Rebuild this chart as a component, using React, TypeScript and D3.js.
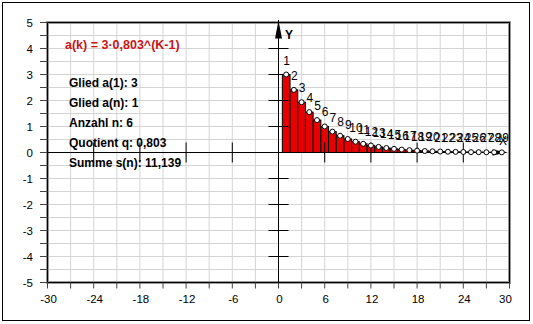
import React from "react";
import * as d3 from "d3";

const termIndex = [1,2,3,4,5,6,7,8,9,10,11,12,13,14,15,16,17,18,19,20,21,22,23,24,25,26,27,28,29];
const termValues = [3, 2.409, 1.934, 1.553, 1.247, 1.002, 0.804, 0.646, 0.519, 0.416, 0.334, 0.269, 0.216, 0.173, 0.139, 0.112, 0.090, 0.072, 0.058, 0.046, 0.037, 0.030, 0.024, 0.019, 0.015, 0.012, 0.010, 0.008, 0.006];
const xTickLabels = [-30, -24, -18, -12, -6, 0, 6, 12, 18, 24, 30];
const yTickLabels = [5, 4, 3, 2, 1, 0, -1, -2, -3, -4, -5];
const titleText = "a(k) = 3·0,803^(K-1)";
const infoLines = ["Glied a(1): 3", "Glied a(n): 1", "Anzahl n: 6", "Quotient q: 0,803", "Summe s(n): 11,139"];

export default function App() {
  const W = 533, H = 324;
  const x = d3.scaleLinear().domain([-30, 30]).range([47.5, 509.5]);
  const y = d3.scaleLinear().domain([-5, 5]).range([282.5, 22.5]);
  const font = "'Liberation Sans', Arial, sans-serif";
  const vGrid = d3.range(-30, 30.01, 3);
  const hGrid = d3.range(-5, 5.01, 0.5);
  const axisTicksX = [-24, -18, -12, -6, 6, 12, 18, 24];
  const axisTicksY = [-4, -3, -2, -1, 1, 2, 3, 4];
  const x0 = x(0), y0 = y(0);
  return (
    <div style={{ position: "fixed", left: 0, top: 0 }}>
      <svg width={W} height={H} style={{ display: "block", background: "#fff" }}>
        <rect x={2.5} y={2.5} width={527} height={318} fill="#fff" stroke="#000" strokeWidth={1} />
        {/* grid */}
        {vGrid.map((v) => (
          <line key={"vg" + v} x1={x(v)} x2={x(v)} y1={y(-5)} y2={y(5)} stroke="#d4d4d4" strokeWidth={1} />
        ))}
        {hGrid.map((v) => (
          <line key={"hg" + v} x1={x(-30)} x2={x(30)} y1={y(v)} y2={y(v)} stroke="#d4d4d4" strokeWidth={1} />
        ))}
        {/* plot frame */}
        <rect x={x(-30)} y={y(5)} width={x(30) - x(-30)} height={y(-5) - y(5)} fill="none" stroke="#9a9a9a" strokeWidth={3} />
        <rect x={x(-30)} y={y(5)} width={x(30) - x(-30)} height={y(-5) - y(5)} fill="none" stroke="#000" strokeWidth={1} />
        {/* outer ticks left */}
        {hGrid.map((v) => (
          <line key={"lt" + v} x1={40} x2={x(-30)} y1={y(v)} y2={y(v)} stroke="#444" strokeWidth={1} />
        ))}
        {yTickLabels.map((v) => (
          <text key={"yl" + v} x={33} y={y(v) + 4} textAnchor="end" fontFamily={font} fontSize={11.5} fill="#000">{v}</text>
        ))}
        {/* outer ticks bottom */}
        {vGrid.map((v) => (
          <line key={"bt" + v} x1={x(v)} x2={x(v)} y1={y(-5)} y2={y(-5) + 6} stroke="#444" strokeWidth={1} />
        ))}
        {xTickLabels.map((v) => (
          <text key={"xl" + v} x={x(v) + (v === 30 ? -4 : 1)} y={303} textAnchor="middle" fontFamily={font} fontSize={11.5} fill="#000">{v}</text>
        ))}
        {/* title and info */}
        <text x={65} y={48.5} fontFamily={font} fontSize={12.5} fontWeight="bold" fill="#c81414">{titleText}</text>
        {infoLines.map((t, i) => (
          <text key={"info" + i} x={69} y={87 + i * 19.9} fontFamily={font} fontSize={12} fontWeight="bold" fill="#000">{t}</text>
        ))}
        {/* bars */}
        {termIndex.map((k, i) => (
          <rect key={"bar" + k} x={x(k - 0.5)} y={y(termValues[i])} width={x(k + 0.5) - x(k - 0.5)} height={y0 - y(termValues[i])} fill="#e80000" stroke="#000" strokeWidth={1} />
        ))}
        {/* axes */}
        <line x1={x(-30)} x2={x(30) - 4} y1={y0} y2={y0} stroke="#000" strokeWidth={1} />
        <line x1={x0} x2={x0} y1={y(-5)} y2={20} stroke="#000" strokeWidth={1} />
        {axisTicksX.map((v) => (
          <line key={"ax" + v} x1={x(v)} x2={x(v)} y1={y0 - 10} y2={y0 + 10} stroke="#000" strokeWidth={1} />
        ))}
        {axisTicksY.map((v) => (
          <line key={"ay" + v} x1={x0 - 10} x2={x0 + 10} y1={y(v)} y2={y(v)} stroke="#000" strokeWidth={1} />
        ))}
        <polygon points={`${x0},${20.5} ${x0 - 3.5},${38.5} ${x0 + 3.5},${38.5}`} fill="#000" />
        <polygon points={`${507.5},${y0} ${492.5},${y0 - 3} ${492.5},${y0 + 3}`} fill="#000" />
        <text x={285} y={39} fontFamily={font} fontSize={12} fontWeight="bold" fill="#000">Y</text>
        <text x={499} y={145} fontFamily={font} fontSize={12} fill="#000">X</text>
        {/* points */}
        {termIndex.map((k, i) => (
          <circle key={"pt" + k} cx={x(k)} cy={y(termValues[i])} r={2.5} fill="#fff" stroke="#000" strokeWidth={1} />
        ))}
        {termIndex.map((k, i) => (
          <text key={"lbl" + k} x={x(k) + 0.5} y={y(termValues[i]) - 10} textAnchor="middle" fontFamily={font} fontSize={12} fill="#000">{k}</text>
        ))}
      </svg>
    </div>
  );
}
